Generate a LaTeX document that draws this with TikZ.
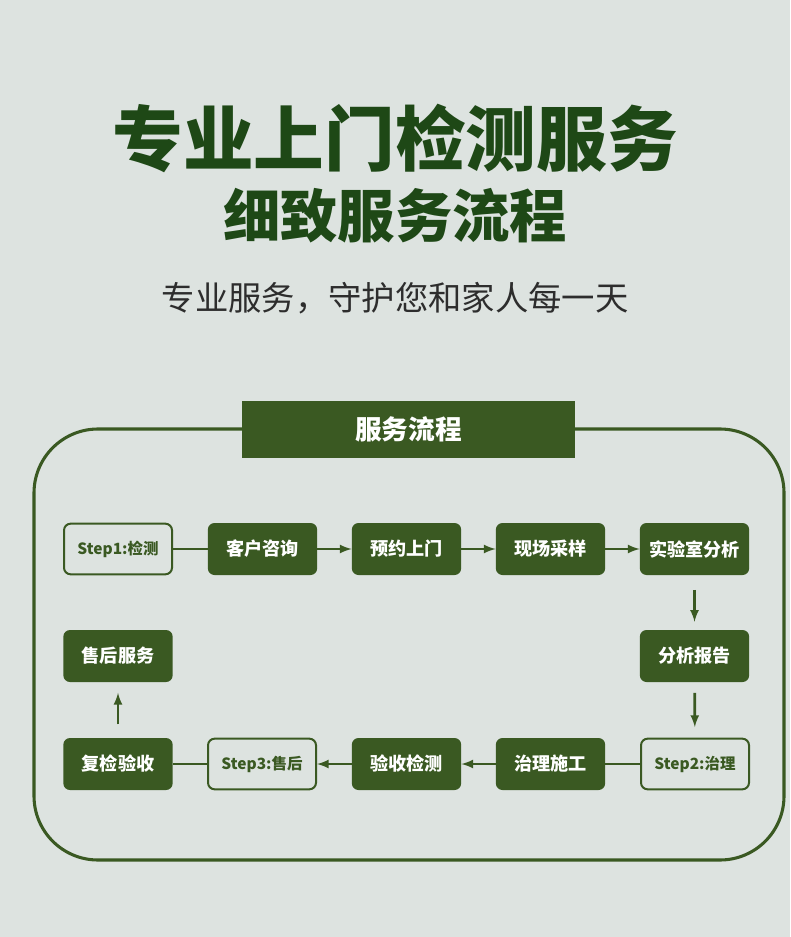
\documentclass[tikz,border=0pt]{standalone}
\usepackage{fontspec}
\setmainfont{Noto Sans CJK SC}
\usetikzlibrary{positioning}
\definecolor{bg_color}{RGB}{221,227,224}
\definecolor{leaf_green}{RGB}{58,89,34}
\definecolor{title_green}{RGB}{30,72,22}
\definecolor{sub_gray}{RGB}{45,45,45}

\begin{document}
\begin{tikzpicture}[x=0.75pt, y=-0.75pt,
    flowbox/.style={fill=leaf_green, rounded corners=5pt, minimum width=82pt, minimum height=39pt,
      text=white, font=\bfseries\fontsize{13.6}{15}\selectfont},
    stepbox/.style={draw=leaf_green, line width=1.5pt, fill=bg_color, rounded corners=5pt,
      minimum width=81pt, minimum height=38pt, text=leaf_green, font=\bfseries\fontsize{11.6}{13}\selectfont},
    flowline/.style={leaf_green, line width=2pt},
    flowarrow/.style={flowline, -latex}]

      % 1. Fondo y titulos
      \fill[bg_color] (0,0) rectangle (790,937);
      \useasboundingbox (0,0) rectangle (790,937);

      \node[text=title_green, font=\bfseries\fontsize{53}{60}\selectfont] (title) at (395,138) {专业上门检测服务};
      \node[text=title_green, font=\bfseries\fontsize{43}{50}\selectfont] (subtitle) at (395,216) {细致服务流程};
      \node[text=sub_gray, font=\fontsize{25}{30}\selectfont] (slogan) at (395,298) {专业服务，守护您和家人每一天};

      % 2. Marco redondeado y cabecera
      \draw[leaf_green, line width=2.3pt, rounded corners=48pt] (34,429) rectangle (784,860);
      \node[fill=leaf_green, minimum width=250pt, minimum height=43pt, text=white,
        font=\bfseries\fontsize{20}{24}\selectfont] (header) at (408.5,429.5) {服务流程};

      % 3. Fila 1
      \node[stepbox] (step1) at (118,549) {Step1:检测};
      \node[flowbox] (consult) at (262.5,549) {客户咨询};
      \node[flowbox] (visit) at (406.5,549) {预约上门};
      \node[flowbox] (sample) at (550.5,549) {现场采样};
      \node[flowbox] (lab) at (694.5,549) {实验室分析};

      % Fila 2
      \node[flowbox] (aftersale) at (118,656) {售后服务};
      \node[flowbox] (report) at (694.5,656) {分析报告};

      % Fila 3
      \node[flowbox] (recheck) at (118,764) {复检验收};
      \node[stepbox] (step3) at (262,764) {Step3:售后};
      \node[flowbox] (inspect) at (406.5,764) {验收检测};
      \node[flowbox] (treat) at (550.5,764) {治理施工};
      \node[stepbox] (step2) at (695,764) {Step2:治理};

      % 4. Conectores
      \draw[flowline] (step1) -- (consult);
      \draw[flowarrow] (consult) -- (visit);
      \draw[flowarrow] (visit) -- (sample);
      \draw[flowarrow] (sample) -- (lab);
      \draw[flowarrow, shorten <=11pt, shorten >=6pt] (lab) -- (report);
      \draw[flowarrow, shorten <=8pt, shorten >=8pt] (report) -- (step2);
      \draw[flowline] (step2) -- (treat);
      \draw[flowarrow] (treat) -- (inspect);
      \draw[flowarrow] (inspect) -- (step3);
      \draw[flowline] (step3) -- (recheck);
      \draw[flowarrow, shorten <=10pt, shorten >=8pt] (recheck) -- (aftersale);

\end{tikzpicture}
\end{document}
